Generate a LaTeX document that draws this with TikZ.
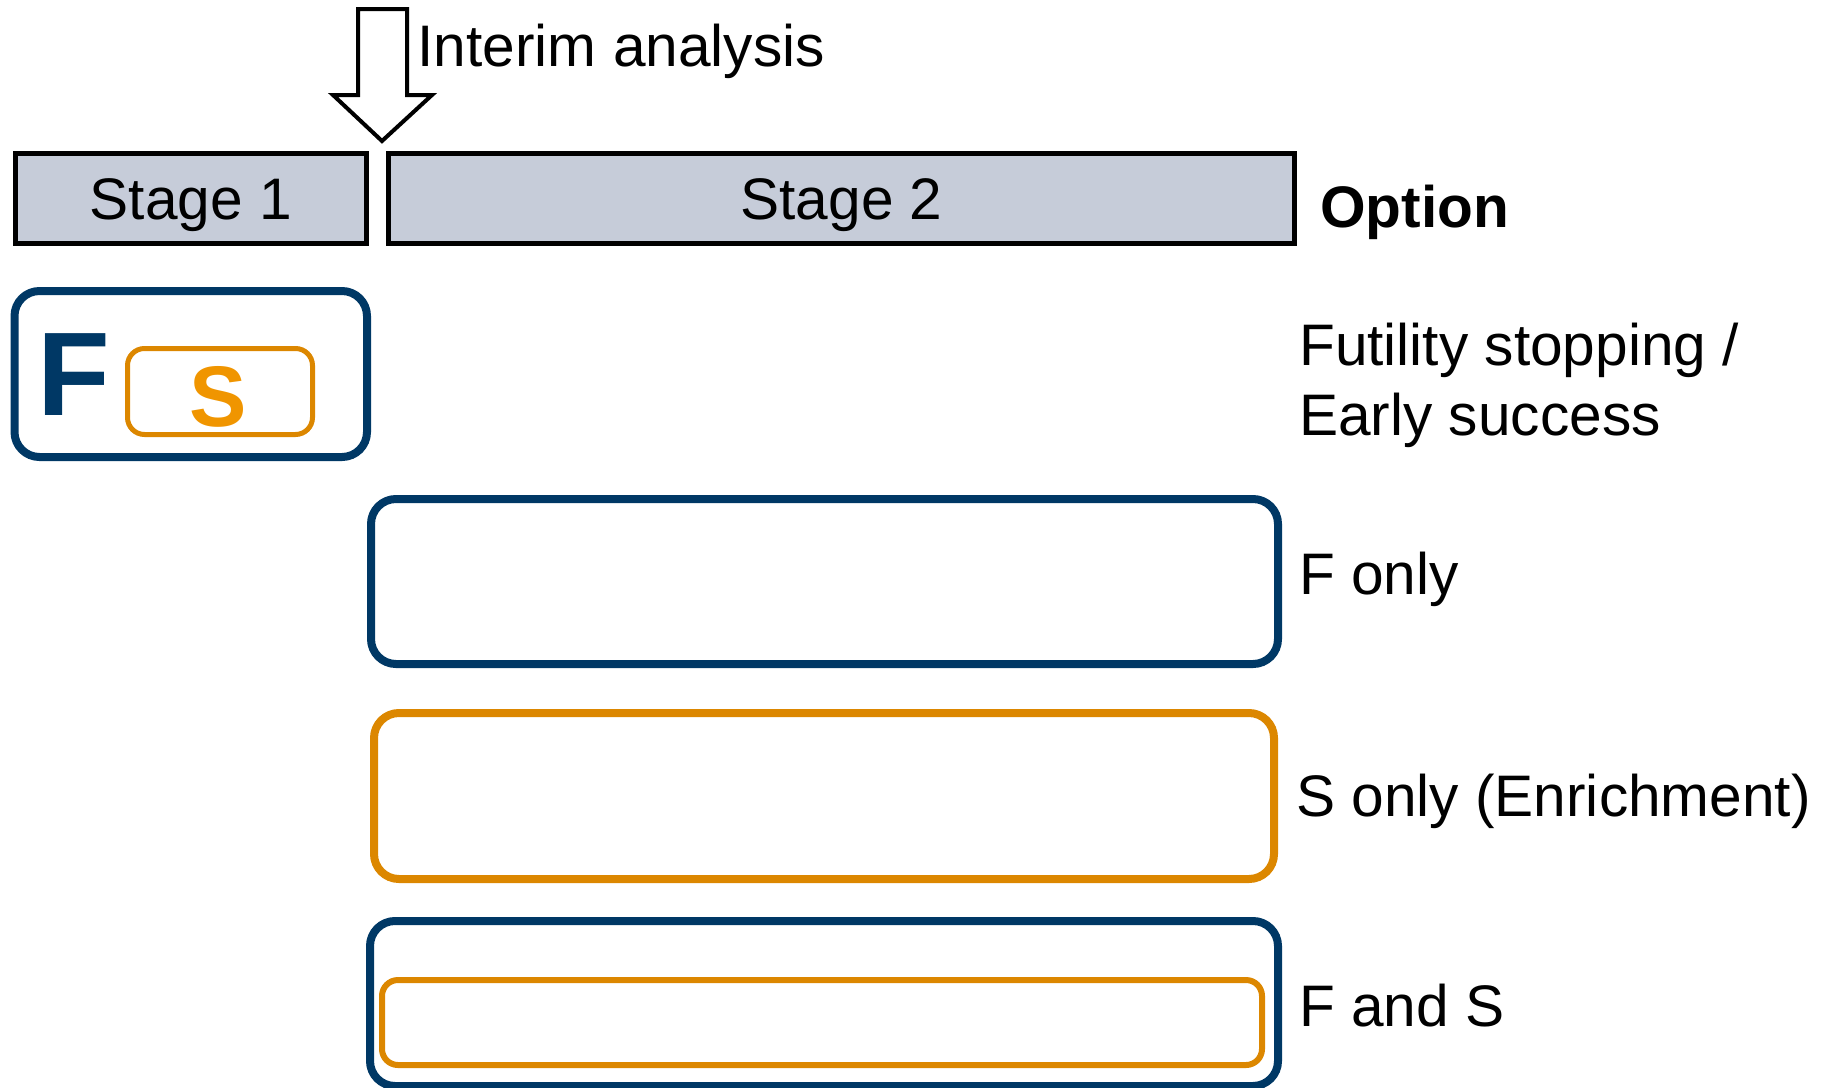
\documentclass[tikz,border=0pt]{standalone}
\usepackage{fontspec}
\setmainfont{Liberation Sans}
\definecolor{navy}{RGB}{0,56,101}
\definecolor{orbox}{RGB}{220,135,0}
\definecolor{orS}{RGB}{240,149,0}
\definecolor{stagefill}{RGB}{198,204,217}
\tikzset{
  stagebox/.style={draw=black, fill=stagefill, line width=5pt, inner sep=0pt,
    text height=42pt, text depth=0pt, font=\fontsize{58.6}{70}\selectfont},
  navybox/.style={draw=navy, line width=8pt, rounded corners=25pt, inner sep=0pt},
  orangebox/.style={draw=orbox, line width=8pt, rounded corners=25pt, inner sep=0pt},
  lbl/.style={anchor=base west, inner sep=0pt, font=\fontsize{58.6}{70}\selectfont},
}
\begin{document}
\begin{tikzpicture}[x=1pt,y=-1pt]
\useasboundingbox (0,0) rectangle (1822,1087);
% interim arrow
\draw[line width=4pt, fill=white, line join=miter] (358,9) -- (407,9) -- (407,95) -- (432,95) -- (382,141) -- (333,95) -- (358,95) -- cycle;
\node[lbl] (interim) at (417.5,66) {Interim analysis};
% stages
\node[stagebox, minimum width=351.5pt, minimum height=90pt] (st1) at (190.75,198.5) {Stage 1};
\node[stagebox, minimum width=906pt, minimum height=90pt] (st2) at (841.5,198.5) {Stage 2};
\node[lbl, font=\fontsize{58.6}{70}\selectfont\bfseries] (opt) at (1320,227) {Option};
% stage 1 box F S
\node[navybox, minimum width=352.5pt, minimum height=166pt] (fs1) at (190.75,374) {};
\node[anchor=base west, inner sep=0pt, text=navy, font=\fontsize{119}{140}\selectfont\bfseries] (Fl) at (37,415) {F};
\node[orangebox, line width=5pt, rounded corners=17pt, minimum width=185pt, minimum height=86pt] (sbox) at (220,391.5) {};
\node[anchor=base, inner sep=0pt, text=orS, font=\fontsize{86}{100}\selectfont\bfseries] (Sl) at (218,426) {S};
\node[lbl] (fut1) at (1299,365) {Futility stopping /};
\node[lbl] (fut2) at (1299,435) {Early success};
% F only
\node[navybox, minimum width=907pt, minimum height=165pt] (fonly) at (824.5,581.5) {};
\node[lbl] (fonlyl) at (1299,594.5) {F only};
% S only
\node[orangebox, minimum width=900pt, minimum height=166pt] (sonly) at (824,796) {};
\node[lbl] (sonlyl) at (1296,816.5) {S only (Enrichment)};
% F and S
\node[navybox, minimum width=908pt, minimum height=165pt] (fands) at (824,1003.5) {};
\node[orangebox, line width=6pt, rounded corners=16pt, minimum width=880pt, minimum height=85pt] (fandsin) at (822,1022.5) {};
\node[lbl] (fandsl) at (1299,1026) {F and S};
\end{tikzpicture}
\end{document}
